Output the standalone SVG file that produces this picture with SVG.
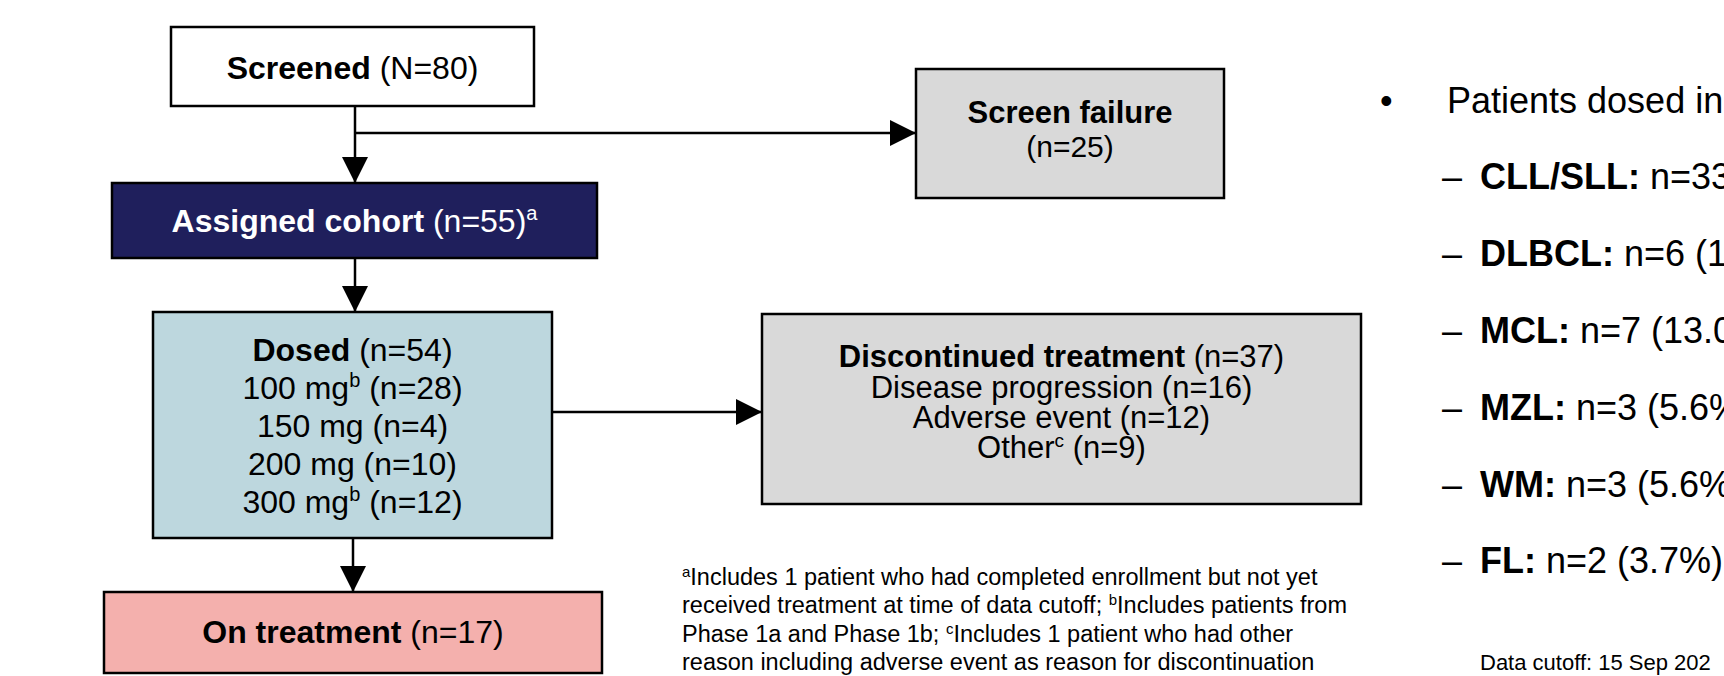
<svg xmlns="http://www.w3.org/2000/svg" width="1724" height="676" viewBox="0 0 1724 676">
<defs>
<marker id="arr" markerUnits="userSpaceOnUse" markerWidth="26" markerHeight="26" refX="26" refY="13" orient="auto"><path d="M0,0 L26,13 L0,26 z" fill="#000"/></marker>
<style>
text{font-family:"Liberation Sans",Arial,sans-serif;fill:#000}
.box{stroke:#000;stroke-width:2.5}
.b{font-weight:bold}
.c{text-anchor:middle}
.t32{font-size:32px}
.conn{stroke:#000;stroke-width:2.5;fill:none}
.disc{font-size:31px}
.foot{font-size:23.5px}
.side{font-size:36px}
</style>
</defs>
<rect width="1724" height="676" fill="#fff"/>

<g id="connectors">
<path class="conn" d="M355,106 V183" marker-end="url(#arr)"/>
<path class="conn" d="M355,133 H916" marker-end="url(#arr)"/>
<path class="conn" d="M355,258 V312" marker-end="url(#arr)"/>
<path class="conn" d="M552,412 H762" marker-end="url(#arr)"/>
<path class="conn" d="M353,538 V592" marker-end="url(#arr)"/>
</g>

<g id="screened">
<rect class="box" x="171" y="27" width="363" height="79" fill="#fff"/>
<text class="c t32" x="352.5" y="79"><tspan class="b">Screened</tspan> (N=80)</text>
</g>

<g id="screen-failure">
<rect class="box" x="916" y="69" width="308" height="129" fill="#D9D9D9"/>
<text class="c b" x="1070" y="123" font-size="31">Screen failure</text>
<text class="c" x="1070" y="157" font-size="30">(n=25)</text>
</g>

<g id="assigned">
<rect class="box" x="112" y="183" width="485" height="75" fill="#1F1F5C"/>
<text class="c t32" x="354.5" y="232" style="fill:#fff"><tspan class="b">Assigned cohort</tspan> (n=55)<tspan font-size="20" dy="-12">a</tspan></text>
</g>

<g id="dosed">
<rect class="box" x="153" y="312" width="399" height="226" fill="#BDD7DE"/>
<text class="c t32" x="352.5" y="361"><tspan class="b">Dosed</tspan> (n=54)</text>
<text class="c t32" x="352.5" y="399">100 mg<tspan font-size="20" dy="-12">b</tspan><tspan dy="12"> (n=28)</tspan></text>
<text class="c t32" x="352.5" y="437">150 mg (n=4)</text>
<text class="c t32" x="352.5" y="475">200 mg (n=10)</text>
<text class="c t32" x="352.5" y="513">300 mg<tspan font-size="20" dy="-12">b</tspan><tspan dy="12"> (n=12)</tspan></text>
</g>

<g id="discontinued">
<rect class="box" x="762" y="314" width="599" height="190" fill="#D9D9D9"/>
<text class="c disc" x="1061.5" y="367"><tspan class="b">Discontinued treatment</tspan> (n=37)</text>
<text class="c disc" x="1061.5" y="398">Disease progression (n=16)</text>
<text class="c disc" x="1061.5" y="428">Adverse event (n=12)</text>
<text class="c disc" x="1061.5" y="458">Other<tspan font-size="19" dy="-11">c</tspan><tspan dy="11"> (n=9)</tspan></text>
</g>

<g id="on-treatment">
<rect class="box" x="104" y="592" width="498" height="81" fill="#F4B0AD"/>
<text class="c t32" x="353" y="643"><tspan class="b">On treatment</tspan> (n=17)</text>
</g>

<g id="footnote">
<text class="foot" x="682" y="585"><tspan font-size="15" dy="-8">a</tspan><tspan dy="8">Includes 1 patient who had completed enrollment but not yet</tspan></text>
<text class="foot" x="682" y="613">received treatment at time of data cutoff; <tspan font-size="15" dy="-8">b</tspan><tspan dy="8">Includes patients from</tspan></text>
<text class="foot" x="682" y="642">Phase 1a and Phase 1b; <tspan font-size="15" dy="-8">c</tspan><tspan dy="8">Includes 1 patient who had other</tspan></text>
<text class="foot" x="682" y="670">reason including adverse event as reason for discontinuation</text>
</g>

<g id="side-panel">
<text class="side" x="1380" y="113">•</text>
<text class="side" x="1447" y="113">Patients dosed in</text>
<text class="side" x="1442" y="189">–</text>
<text class="side" x="1480" y="189"><tspan class="b">CLL/SLL:</tspan> n=33</text>
<text class="side" x="1442" y="266">–</text>
<text class="side" x="1480" y="266"><tspan class="b">DLBCL:</tspan> n=6 (1</text>
<text class="side" x="1442" y="343">–</text>
<text class="side" x="1480" y="343"><tspan class="b">MCL:</tspan> n=7 (13.0</text>
<text class="side" x="1442" y="420">–</text>
<text class="side" x="1480" y="420"><tspan class="b">MZL:</tspan> n=3 (5.6%</text>
<text class="side" x="1442" y="497">–</text>
<text class="side" x="1480" y="497"><tspan class="b">WM:</tspan> n=3 (5.6%</text>
<text class="side" x="1442" y="573">–</text>
<text class="side" x="1480" y="573"><tspan class="b">FL:</tspan> n=2 (3.7%)</text>
<text x="1480" y="670" font-size="22">Data cutoff: 15 Sep 202</text>
</g>
</svg>
